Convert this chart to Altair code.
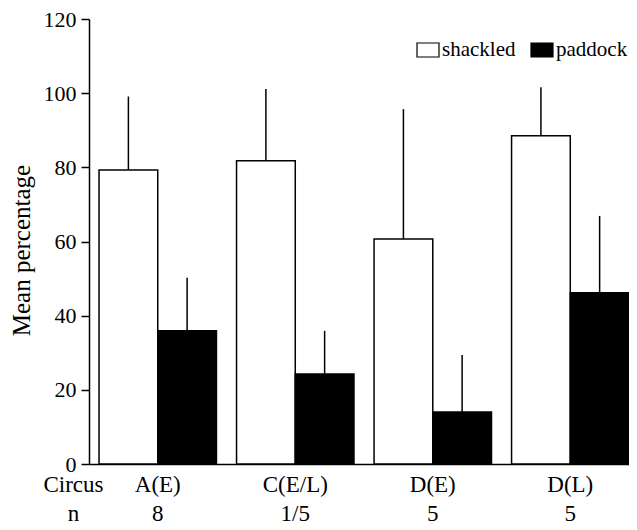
import json
import altair as alt
import pandas as pd

circus = ["A(E)", "C(E/L)", "D(E)", "D(L)"]
n_labels = ["8", "1/5", "5", "5"]
series = ["shackled", "paddock"]
shackled_mean = [79.3, 81.8, 60.7, 88.5]
shackled_upper = [99.1, 101.1, 95.7, 101.6]
paddock_mean = [35.9, 24.3, 14.0, 46.2]
paddock_upper = [50.2, 35.9, 29.4, 66.9]

rows = []
for i, c in enumerate(circus):
    rows.append({"circus": c, "group": "shackled", "mean": shackled_mean[i], "upper": shackled_upper[i]})
    rows.append({"circus": c, "group": "paddock", "mean": paddock_mean[i], "upper": paddock_upper[i]})
df = pd.DataFrame(rows)

n_map = json.dumps(dict(zip(circus, n_labels)))
FONT = "Liberation Serif"

x_enc = alt.X(
    "circus:N",
    sort=circus,
    scale=alt.Scale(paddingInner=0.146, paddingOuter=0.0365, align=1),
    axis=alt.Axis(
        title=["Circus", "n"],
        titleFont=FONT, titleFontSize=23, titleFontWeight="normal", titleColor="black",
        titleX=-16, titleY=9, titleAlign="center", titleBaseline="top", titleLineHeight=29,
        titleAngle=0,
        labelExpr=f"[datum.value, {n_map}[datum.value]]",
        labelFont=FONT, labelFontSize=23, labelColor="black", labelAngle=0,
        labelAlign="center",
        labelPadding=9, labelLineHeight=29, labelBaseline="top",
        ticks=False, tickSize=0,
        domainColor="black", domainWidth=1.5,
    ),
)
xoff = alt.XOffset("group:N", sort=series)
y_scale = alt.Scale(domain=[0, 120])

bars = alt.Chart(df).mark_bar(stroke="black", strokeWidth=1.5).encode(
    x=x_enc,
    xOffset=xoff,
    y=alt.Y(
        "mean:Q",
        scale=y_scale,
        axis=alt.Axis(
            values=[0, 20, 40, 60, 80, 100, 120],
            title="Mean percentage",
            titleFont=FONT, titleFontSize=25, titleFontWeight="normal", titleColor="black",
            titleX=-60, titleY=231, titleAlign="center", titleBaseline="alphabetic",
            labelFont=FONT, labelFontSize=22, labelColor="black", labelPadding=5,
            tickSize=8, tickWidth=1.5, tickColor="black",
            domainColor="black", domainWidth=1.5, grid=False,
        ),
    ),
    fill=alt.Fill(
        "group:N",
        sort=series,
        scale=alt.Scale(domain=series, range=["white", "black"]),
        legend=alt.Legend(
            title=None, orient="none", legendX=327, legendY=19, direction="horizontal",
            symbolType="M-1,-0.636H1V0.636H-1Z", symbolSize=484,
            symbolStrokeColor="black", symbolStrokeWidth=1.2, symbolOpacity=1,
            labelFont=FONT, labelFontSize=21, labelColor="black", labelOffset=2,
            columnPadding=12, padding=0,
        ),
    ),
)

errs = alt.Chart(df).mark_rule(color="black", strokeWidth=1.5).encode(
    x=alt.X("circus:N", sort=circus),
    xOffset=xoff,
    y=alt.Y("upper:Q", scale=y_scale),
    y2="mean:Q",
)

chart = (
    alt.layer(errs, bars)
    .properties(
        width=540, height=445,
        autosize="none",
        padding={"left": 81, "top": 11, "right": 0, "bottom": 58},
        background="white",
    )
    .configure(font=FONT)
    .configure_axis(labelFont=FONT, titleFont=FONT)
    .configure_legend(labelFont=FONT)
    .configure_view(stroke=None)
)

chart.save("out.html", embed_options={"renderer": "svg", "actions": False})
